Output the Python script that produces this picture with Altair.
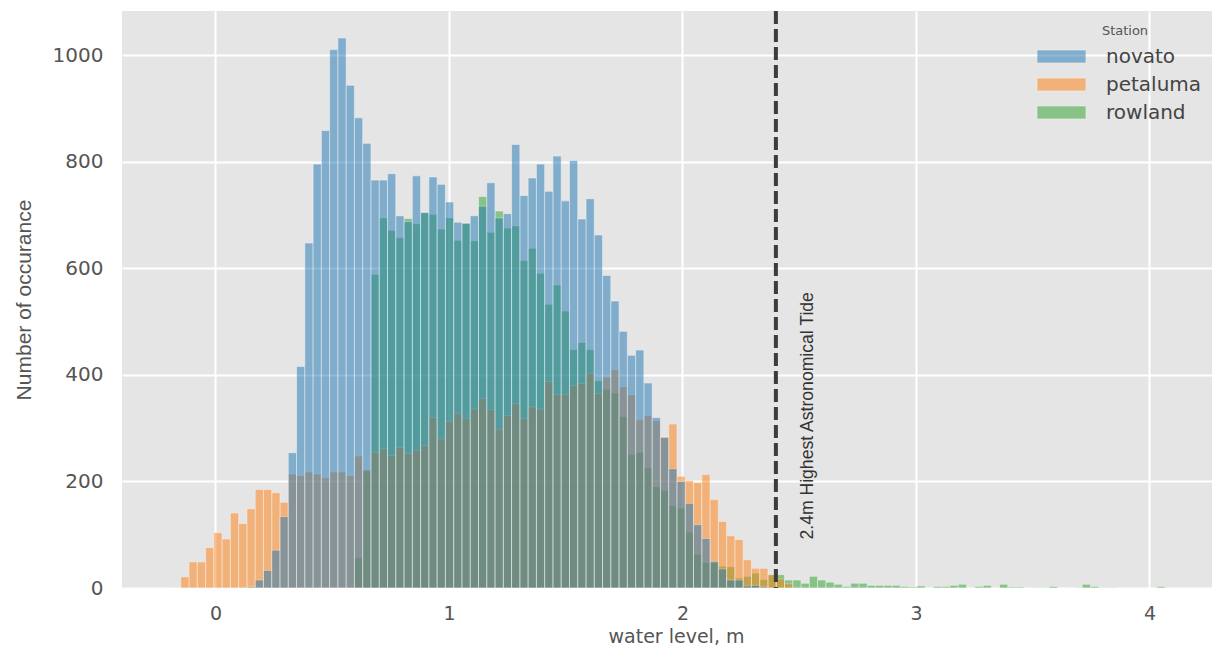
import altair as alt
import pandas as pd

bin_start = -0.1842
bin_width = 0.03542

# counts per bin; each list starts at its own first bin
novato_first = 9
novato = [2, 15, 33, 71, 134, 254, 416, 648, 796, 859, 1011, 1033, 944, 883, 835, 766, 766, 778, 699, 688,
          774, 705, 772, 758, 725, 687, 685, 699, 717, 761, 695, 703, 833, 737, 770, 796, 745, 811, 727, 803,
          693, 731, 663, 587, 539, 482, 437, 447, 385, 320, 283, 224, 200, 159, 119, 93, 50, 36, 15, 15,
          4, 5, 2]
petaluma_first = 0
petaluma = [1, 21, 49, 49, 76, 104, 92, 141, 121, 149, 185, 185, 179, 161, 214, 211, 218, 214, 207, 218,
            218, 211, 248, 222, 255, 261, 249, 264, 253, 259, 267, 320, 280, 313, 328, 318, 336, 356, 335, 298,
            324, 346, 318, 340, 336, 388, 363, 363, 380, 384, 403, 365, 396, 410, 378, 363, 316, 324, 314, 283,
            308, 210, 202, 198, 213, 166, 125, 98, 91, 53, 37, 37, 25, 17, 8]
rowland_first = 22
rowland = [57, 220, 589, 695, 672, 658, 694, 684, 705, 702, 674, 695, 653, 685, 652, 735, 668, 708, 676, 680,
           615, 638, 591, 533, 569, 520, 448, 461, 448, 389, 373, 366, 322, 251, 255, 226, 190, 183, 155, 150,
           105, 63, 48, 47, 41, 40, 19, 22, 28, 16, 25, 25, 15, 15, 9, 22, 15, 11, 7, 3,
           9, 9, 5, 5, 5, 5, 3, 2, 4, 0, 3, 3, 5, 7, 0, 3, 5, 0, 7, 2,
           2, 0, 1, 1, 3, 0, 0, 1, 7, 3, 1, 1, 0, 0, 0, 0, 0, 3]

stations = ["novato", "petaluma", "rowland"]
colors = ["#1f77b4", "#ff7f0e", "#2ca02c"]
x_ticks = [0, 1, 2, 3, 4]
y_ticks = [0, 200, 400, 600, 800, 1000]
tide_level = 2.4
tide_label = "2.4m Highest Astronomical Tide"

rows = []
for name, first, vals in [("novato", novato_first, novato),
                          ("petaluma", petaluma_first, petaluma),
                          ("rowland", rowland_first, rowland)]:
    for i, v in enumerate(vals):
        k = first + i
        if v > 0:
            rows.append({"station": name, "order": stations.index(name),
                         "x0": bin_start + k * bin_width,
                         "x1": bin_start + (k + 1) * bin_width, "count": v, "base": 0})
df = pd.DataFrame(rows).sort_values("order", ascending=False)

xs = alt.Scale(domain=[-0.4004, 4.2677], nice=False, zero=False)
ys = alt.Scale(domain=[0, 1083.5], nice=False)
FONT = "DejaVu Sans"
NARROW = "Liberation Sans"

bars = alt.Chart(df).mark_bar(opacity=0.5, stroke="white", strokeWidth=0.7, strokeOpacity=0.8).encode(
    x=alt.X("x0:Q", scale=xs, axis=alt.Axis(values=x_ticks, format="d", title="water level, m", grid=True,
            gridColor="white", gridWidth=2, gridOpacity=1, domain=False, ticks=False, labelFont=FONT,
            labelFontSize=19, labelColor="#555555", labelPadding=16, titleFont=FONT, titleFontSize=19,
            titleFontWeight="normal", titleColor="#555555", titlePadding=4, titleX=554, labelFlush=False)),
    x2="x1:Q",
    y=alt.Y("count:Q", stack=None, scale=ys, axis=alt.Axis(values=y_ticks, format="d", title="Number of occurance",
            grid=True, gridColor="white", gridWidth=2, gridOpacity=1, domain=False, ticks=False, labelFont=FONT,
            labelFontSize=20, labelColor="#555555", labelPadding=19, titleFont=NARROW, titleFontSize=21,
            titleFontWeight="normal", titleColor="#555555", titlePadding=18)),
    y2="base:Q",
    color=alt.Color("station:N", scale=alt.Scale(domain=stations, range=colors), legend=alt.Legend(
        title="Station", orient="none", legendX=923, legendY=10, titleFont=FONT, titleFontSize=13,
        titleFontWeight="normal", titleColor="#555555", titleAnchor="middle", titlePadding=6,
        labelFont=FONT, labelFontSize=20, labelColor="#444444", labelOffset=32,
        symbolType="M-2.04,-0.54H2.04V0.54H-2.04Z", symbolSize=576, symbolOpacity=0.5, symbolStrokeColor="white",
        symbolStrokeWidth=0.6, rowPadding=5, padding=4)),
    order=alt.Order("order:Q", sort="descending"),
)

rule = alt.Chart(pd.DataFrame({"x": [tide_level]})).mark_rule(
    color="#3c3c3c", strokeWidth=4, strokeDash=[13, 5]).encode(x=alt.X("x:Q", scale=xs))

label = alt.Chart(pd.DataFrame({"x": [2.537], "y": [91], "t": [tide_label]})).mark_text(
    angle=270, align="left", baseline="middle", font=NARROW, fontSize=17.6, color="#333333").encode(
    x=alt.X("x:Q", scale=xs), y=alt.Y("y:Q", scale=ys), text="t:N")

chart = (bars + rule + label).properties(
    width=1090, height=577, autosize=alt.AutoSizeParams(type="none"),
    padding={"left": 114, "top": 3, "right": 0, "bottom": 58},
    background="white",
).configure_view(fill="#E5E5E5", stroke=None)

chart.save("out.html", embed_options={"renderer": "svg", "actions": False})
